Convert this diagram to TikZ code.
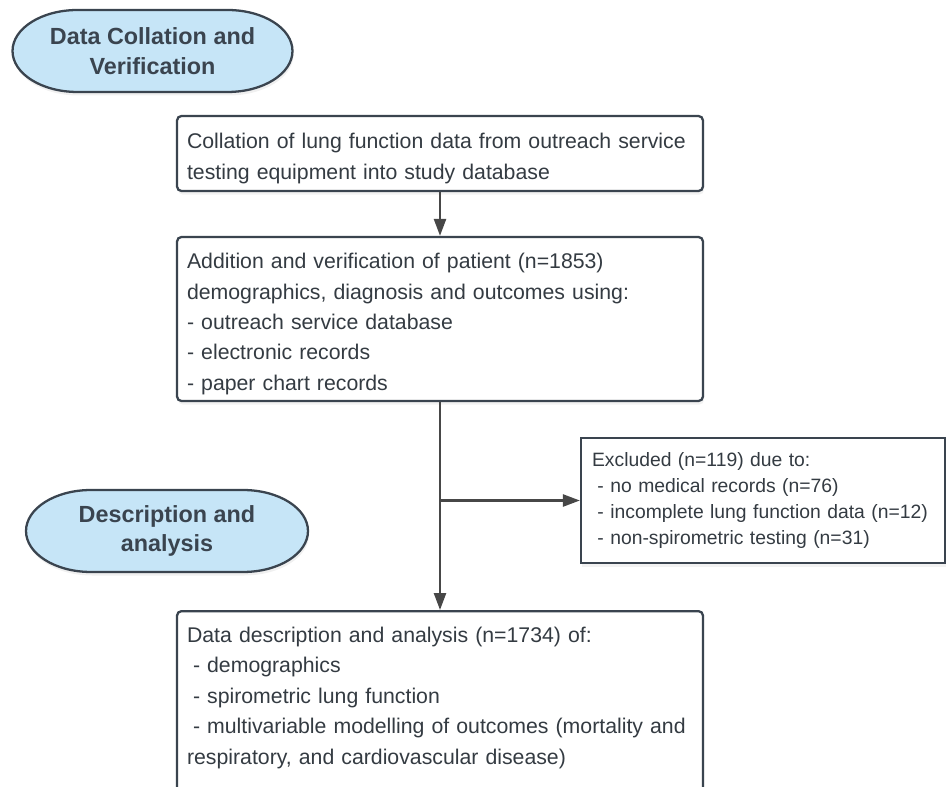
\documentclass[tikz,border=0pt]{standalone}
\usepackage{fontspec}
\setmainfont{Liberation Sans}
\usetikzlibrary{arrows.meta,shadows}
\definecolor{edgegray}{HTML}{3A444F}
\definecolor{stageblue}{HTML}{C6E5F7}
\definecolor{textgray}{HTML}{343B42}
\definecolor{arrowgray}{HTML}{474747}
\newcommand\topstrut{\rule{0pt}{14.5pt}}

\begin{document}
\begin{tikzpicture}[x=0.02cm,y=-0.02cm,
    every node/.style={font=\fontsize{12.1}{17.3}\selectfont,text=textgray},
    stage/.style={draw=edgegray,line width=1.3pt,fill=stageblue,
      drop shadow={shadow xshift=0.6pt,shadow yshift=-2pt,opacity=0.12}},
    stagetext/.style={align=center,font=\fontsize{13.3}{17}\selectfont\bfseries,text=edgegray},
    stepbox/.style={draw=edgegray,line width=1.3pt,fill=white,rounded corners=2.5pt,
      align=left,inner xsep=0.2cm,text width=10.12cm,minimum width=10.52cm,
      drop shadow={shadow xshift=0.6pt,shadow yshift=-2pt,opacity=0.1}},
    flow/.style={draw=arrowgray,line width=1.4pt,-{Triangle[width=0.24cm,length=0.34cm]}}]
  \clip (0,0) rectangle (946,787);
  \useasboundingbox (0,0) rectangle (946,787);

  % stage labels
  \coordinate (c1) at (152.5,51);
  \draw[stage] ([shift={(-75,-41)}]c1) -- ++(150,0)
    arc[start angle=90,end angle=-90,x radius=1.3cm,y radius=0.82cm] -- ++(-150,0)
    arc[start angle=270,end angle=90,x radius=1.3cm,y radius=0.82cm] -- cycle;
  \node[stagetext] (collate) at (c1) {Data Collation and\\Verification};
  \coordinate (c2) at (167,531);
  \draw[stage] ([shift={(-76,-41)}]c2) -- ++(152,0)
    arc[start angle=90,end angle=-90,x radius=1.3cm,y radius=0.82cm] -- ++(-152,0)
    arc[start angle=270,end angle=90,x radius=1.3cm,y radius=0.82cm] -- cycle;
  \node[stagetext] (describe) at (c2) {Description and\\analysis};

  % flow boxes
  \node[stepbox,minimum height=1.5cm] (import) at (440,153.5)
    {\topstrut Collation of lung function data from outreach service\\testing equipment into study database};
  \node[stepbox,minimum height=3.28cm] (verify) at (440,319)
    {\topstrut Addition and verification of patient (n=1853)\\demographics, diagnosis and outcomes using:\\- outreach service database\\- electronic records\\- paper chart records};
  \node[stepbox,rounded corners=0pt,font=\fontsize{11}{14.8}\selectfont,inner xsep=0.22cm,text width=6.84cm,minimum width=7.28cm,minimum height=2.5cm] (exclude) at (763,500.5)
    {Excluded (n=119) due to:\\\hspace*{0.28em}- no medical records (n=76)\\\hspace*{0.28em}- incomplete lung function data (n=12)\\\hspace*{0.28em}- non-spirometric testing (n=31)};
  \node[stepbox,anchor=north,inner ysep=0.32cm] (analyse) at (440,610)
    {Data description and analysis (n=1734) of:\\\hspace*{0.28em}- demographics\\\hspace*{0.28em}- spirometric lung function\\\hspace*{0.28em}- multivariable modelling of outcomes (mortality and\\respiratory, and cardiovascular disease)\\\mbox{}\\\mbox{}};

  % connectors
  \draw[flow] (import) -- (verify);
  \draw[flow] (verify.south) -- (analyse.north);
  \coordinate (split) at (verify.south |- exclude.west);
  \draw[flow] (split) -- (exclude.west);
\end{tikzpicture}
\end{document}
